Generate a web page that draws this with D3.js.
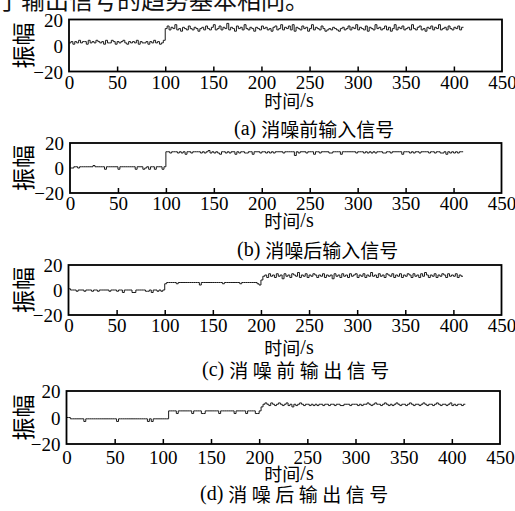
<!DOCTYPE html>
<html><head><meta charset="utf-8">
<script src="https://cdn.jsdelivr.net/npm/d3@7/dist/d3.min.js"></script>
<style>
html,body{margin:0;padding:0;background:#fff;}
svg{display:block;}
.serif{font-family:"Liberation Serif","DejaVu Serif","Times New Roman",serif;}
.cjk{font-family:"Noto Sans CJK SC","Noto Sans CJK JP",sans-serif;}
</style></head>
<body>
<svg id="chart" width="515" height="511"></svg>
<script>
// ---------------- data ----------------
const xTicks = [0, 50, 100, 150, 200, 250, 300, 350, 400, 450];
const yTicks = [-20, 0, 20];
const xDomain = [0, 450];
const yDomain = [-20, 20];
const sampleStep = 2; // seconds per sample
const yAxisLabel = "振幅";
const xAxisLabel = ["时间", "/s"];
const captionTags = ["(a)", "(b)", "(c)", "(d)"];
const captionTexts = ["消噪前输入信号", "消噪后输入信号", "消噪前输出信号", "消噪后输出信号"];
const headerText = "了输出信号的趋势基本相同。";

// (a) input before denoising
const seriesA = [
  2,3,1,3,2,4,2,3,3,1, 4,2,3,2,4,3,2,3,1,4, 2,2,4,3,1,3,2,3,4,2, 1,3,2,3,2,4,1,3,2,2, 3,1,3,2,4,2,3,1,2,4,
  13,15,12,14,13,16,12,13,11,14, 13,12,15,13,12,14,13,11,13,14, 12,15,13,12,14,16,12,13,15,12,
  14,13,17,12,14,13,11,15,13,14, 12,16,13,12,14,13,11,14,13,12, 15,13,14,12,13,11,14,15,12,13,
  16,12,14,13,15,12,16,11,14,13, 12,15,13,14,11,13,16,12,14,13, 12,15,13,11,12,13,12,14,13,12,
  11,13,14,12,13,15,12,14,13,16, 12,14,13,12,15,11,14,13,12,16, 13,14,12,13,15,12,14,11,13,16,
  12,14,13,15,12,13,14,12,16,13, 12,14,15,12,13,11,14,13,15,12, 14,13,16,12,13,14,12,15,13,12,
  14,13,15,12,14
];
// (b) input after denoising
const seriesB = [
  0,0,1,1,0,1,1,1,1,1, 1,1,2,1,1,1,1,1,-1,1, 1,1,1,1,1,-1,1,1,1,1, 1,1,1,1,-1,1,1,1,-1,0, 1,-1,1,1,-1,1,1,1,-1,1,
  13,13,12,13,13,13,12,13,12,13, 11,13,13,12,13,13,13,13,12,13, 12,13,14,12,13,12,13,12,11,13,
  13,12,13,12,13,13,11,13,12,13, 13,12,12,13,13,11,13,13,13,12, 13,13,12,13,12,13,12,13,13,13,
  13,12,13,13,13,13,13,10,13,12, 13,13,13,12,13,13,13,11,13,13, 12,13,13,13,13,12,12,13,13,13,
  13,11,13,13,13,13,13,13,13,12, 13,13,13,12,13,12,13,12,13,12, 13,13,13,12,12,13,13,12,13,13,
  13,13,13,11,13,13,13,12,13,12, 13,13,12,13,13,13,13,12,13,13, 12,13,13,12,12,13,11,13,12,13,
  12,13,12,13,13
];
// (c) output before denoising
const seriesC = [
  1,0,0,0,-1,0,0,0,-1,0, 0,0,-1,0,0,-1,0,0,0,0, 0,-1,0,0,0,-1,0,0,-2,0, 0,0,0,-2,-2,0,0,0,0,0, -1,-1,0,-2,0,0,-1,0,-1,0,
  5,6,6,6,6,6,5,6,6,6, 6,6,6,6,6,6,6,6,4,6, 6,6,6,6,6,6,6,6,6,6, 5,6,6,6,6,6,6,6,6,5, 6,6,6,6,6,6,6,6,5,4,
  8,11,12,10,13,11,12,10,13,11, 12,9,13,11,12,10,13,12,11,14, 10,12,11,13,10,12,11,13,12,10,
  12,11,13,10,12,11,12,9,13,11, 12,10,13,11,12,10,13,11,12,13, 10,12,11,13,10,12,11,14,11,12,
  10,13,11,12,10,13,12,11,13,10, 12,11,13,10,12,11,13,12,10,13, 11,12,10,13,11,14,12,10,12,11,
  13,10,12,11,13,12,10,13,11,12, 11,13,10,12,11
];
// (d) output after denoising
const seriesD = [
  0,0,-1,-1,-1,-1,-1,-1,-1,-3, -1,-1,-1,-1,-1,-1,-1,-1,-1,-1, -1,-1,-1,-1,-1,-1,-3,-1,-1,-1,
  -1,-1,-1,-1,-1,-1,-1,-1,-1,-1, -1,-1,-3,-1,-3,-1,-1,-1,-1,-1, -1,-1,-1,
  5,5,5,5,3,5,5,5,5,5, 5,5,3,5,5,5,5,3,3,5, 5,5,5,5,5,5,3,5,5,5, 5,5,5,5,3,5,5,5,5,5, 3,5,5,5,5,3,3,5,
  8,10,11,10,9,11,10,9,10,11, 10,9,10,11,9,10,8,10,9,10, 11,10,9,10,10,9,10,9,10,9,
  10,10,9,10,10,9,10,10,9,10, 10,9,9,10,10,10,9,10,10,10, 9,10,9,10,10,11,10,9,10,11,
  10,10,9,10,11,10,9,10,9,10, 11,10,9,10,10,9,10,11,10,9, 10,10,9,10,11,10,9,10,10,9,
  10,11,10,9,10,10,9,10,11,9, 10,9,10,10,9,10
];
const allSeries = [seriesA, seriesB, seriesC, seriesD];

// ---------------- layout ----------------
const panels = [
  {l: 69,   r: 502,   t: 19.5, b: 71.5, tickY: 82,  xlY: 100, capY: 128, capX: 234, ls: 0},
  {l: 70,   r: 501.5, t: 143,  b: 193,  tickY: 203, xlY: 220, capY: 249, capX: 237, ls: 0},
  {l: 68.5, r: 501.5, t: 265,  b: 315,  tickY: 325, xlY: 347, capY: 369, capX: 202, ls: 4.5},
  {l: 66.5, r: 500,   t: 391,  b: 444,  tickY: 457, xlY: 473, capY: 493, capX: 200, ls: 4.5}
];

const svg = d3.select("#chart");

// header (cut-off text line at top)
svg.append("text").attr("class", "cjk").attr("x", -3).attr("y", 9)
  .attr("font-size", 24).attr("fill", "#111")
  .text(headerText);

panels.forEach((p, k) => {
  const data = allSeries[k];
  const x = d3.scaleLinear().domain(xDomain).range([p.l, p.r]);
  const y = d3.scaleLinear().domain(yDomain).range([p.b, p.t]);
  const g = svg.append("g");

  // signal (step line)
  const pts = data.map((v, i) => [i * sampleStep, v]);
  pts.push([data.length * sampleStep, data[data.length - 1]]);
  const line = d3.line().x(d => x(d[0])).y(d => y(d[1])).curve(d3.curveStepAfter);
  g.append("path").datum(pts).attr("d", line)
    .attr("fill", "none").attr("stroke", "#1a1a1a").attr("stroke-width", 1);

  // bottom axis (ticks pointing inward)
  const xAxis = d3.axisBottom(x).tickValues(xTicks).tickSize(-5).tickSizeOuter(0).tickFormat(d3.format("d"));
  const gx = g.append("g").attr("transform", `translate(0,${p.b})`).call(xAxis)
    .attr("font-family", null).attr("font-size", null);
  gx.select(".domain").remove();
  gx.selectAll(".tick line").attr("stroke", "#000").attr("stroke-width", 1.5)
    .filter(d => d === 0 || d === 450).remove();
  gx.selectAll(".tick text").attr("class", "serif")
    .style("font-family", '"Liberation Serif","DejaVu Serif",serif').style("font-size", "19px")
    .attr("fill", "#000")
    .attr("y", 0).attr("dy", null).attr("dominant-baseline", "central")
    .attr("transform", `translate(0,${p.tickY - p.b})`);

  // left axis labels
  const yAxis = d3.axisLeft(y).tickValues(yTicks).tickSize(0).tickPadding(6)
    .tickFormat(d => d < 0 ? "\u2212" + Math.abs(d) : String(d));
  const gy = g.append("g").attr("transform", `translate(${p.l},0)`).call(yAxis)
    .attr("font-family", null).attr("font-size", null);
  gy.select(".domain").remove();
  gy.selectAll(".tick text").attr("class", "serif")
    .style("font-family", '"Liberation Serif","DejaVu Serif",serif').style("font-size", "19px")
    .attr("fill", "#000")
    .attr("dy", null).attr("dominant-baseline", "central");

  // frame
  g.append("rect").attr("x", p.l).attr("y", p.t).attr("width", p.r - p.l).attr("height", p.b - p.t)
    .attr("fill", "none").attr("stroke", "#000").attr("stroke-width", 1.8);

  // y label
  const cy = (p.t + p.b) / 2;
  g.append("text").attr("class", "cjk").attr("transform", `translate(22,${cy}) rotate(-90)`)
    .attr("text-anchor", "middle").attr("dominant-baseline", "central")
    .attr("font-size", 23).attr("fill", "#000")
    .text(yAxisLabel);

  // x label
  const xl = g.append("text").attr("x", 289).attr("y", p.xlY)
    .attr("text-anchor", "middle").attr("dominant-baseline", "central").attr("fill", "#000");
  xl.append("tspan").attr("class", "cjk").attr("font-size", 18).text(xAxisLabel[0]);
  xl.append("tspan").attr("class", "serif").attr("font-size", 20).text(xAxisLabel[1]);

  // caption
  const cap = g.append("text").attr("x", p.capX).attr("y", p.capY)
    .attr("dominant-baseline", "central").attr("fill", "#000");
  cap.append("tspan").attr("class", "serif").attr("font-size", 20).text(captionTags[k] + " ");
  cap.append("tspan").attr("class", "cjk").attr("font-size", 19).attr("letter-spacing", p.ls)
    .text(captionTexts[k]);
});
</script>
</body></html>
